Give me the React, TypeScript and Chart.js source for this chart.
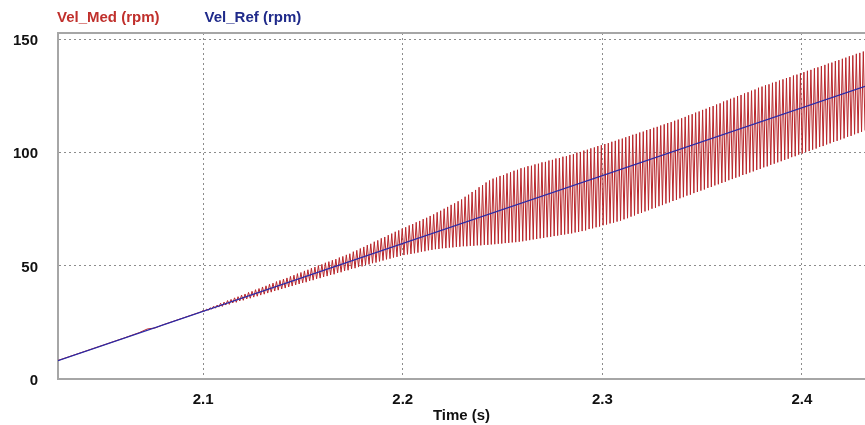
import React, { useEffect, useRef } from "react";
import { Chart, registerables } from "chart.js";

Chart.register(...registerables);

// ---------- data ----------
const seriesNames = ["Vel_Med (rpm)", "Vel_Ref (rpm)"];
const xTitle = "Time (s)";
const xMin = 2.0273;
const xMax = 2.4316;
const yMin = 0;
const yMax = 153;
const xStep = 0.1;
const yStep = 50;

// reference speed (straight ramp)
const refTime = [2.0273, 2.4316];
const refValue = [8.1, 129.4];

// measured speed before the oscillation starts
const medPreTime = [2.0273, 2.06, 2.068, 2.072, 2.076, 2.08, 2.09, 2.099];
const medPreValue = [8.2, 18.0, 20.5, 22.1, 22.6, 24.0, 27.0, 29.7];

// measured speed oscillation: sample times start at medOscStart, half a period apart
const medOscStart = 2.1;
const medHalfPeriod = 0.000875;
const medPeaks = [
  30.3, 30.9, 31.5, 32.2, 32.7, 33.5, 34.0, 34.7, 35.2, 35.9,
  36.4, 37.1, 37.6, 38.3, 38.8, 39.5, 40.0, 40.7, 41.2, 41.9,
  42.4, 43.1, 43.6, 44.2, 44.7, 45.4, 45.9, 46.6, 47.1, 47.8,
  48.3, 49.0, 49.5, 50.2, 50.7, 51.4, 51.9, 52.5, 53.0, 53.7,
  54.2, 54.9, 55.4, 56.3, 56.9, 57.7, 58.4, 59.2, 59.8, 60.7,
  61.3, 62.2, 62.8, 63.6, 64.3, 65.1, 65.7, 66.5, 67.1, 67.9,
  68.5, 69.3, 69.9, 70.7, 71.3, 72.1, 72.8, 73.7, 74.4, 75.3,
  76.1, 77.0, 77.7, 78.6, 79.4, 80.6, 81.5, 82.7, 83.6, 84.8,
  85.7, 86.9, 87.8, 88.6, 89.1, 89.8, 90.2, 90.9, 91.4, 92.1,
  92.5, 93.2, 93.5, 94.1, 94.3, 94.9, 95.2, 95.8, 96.0, 96.6,
  96.9, 97.5, 97.7, 98.3, 98.5, 99.1, 99.4, 100.1, 100.4, 101.0,
  101.4, 102.0, 102.4, 103.0, 103.4, 103.9, 104.3, 104.9, 105.3, 105.9,
  106.3, 106.9, 107.4, 108.0, 108.4, 109.0, 109.4, 110.1, 110.5, 111.1,
  111.5, 112.1, 112.6, 113.2, 113.6, 114.2, 114.7, 115.3, 115.9, 116.6,
  117.1, 117.8, 118.3, 119.0, 119.5, 120.2, 120.7, 121.4, 121.9, 122.7,
  123.2, 123.9, 124.4, 125.1, 125.6, 126.3, 126.8, 127.5, 128.0, 128.8,
  129.3, 129.9, 130.3, 131.0, 131.4, 132.0, 132.5, 133.1, 133.5, 134.2,
  134.6, 135.2, 135.7, 136.3, 136.7, 137.4, 137.8, 138.4, 138.9, 139.5,
  139.9, 140.6, 141.0, 141.6, 142.1, 142.7, 143.1, 143.8, 144.2, 144.8,
];
const medTroughs = [
  30.0, 30.4, 30.9, 31.3, 31.8, 32.1, 32.7, 33.0, 33.6, 33.9,
  34.5, 34.8, 35.4, 35.7, 36.2, 36.6, 37.1, 37.5, 38.0, 38.4,
  38.9, 39.3, 39.8, 40.2, 40.7, 41.1, 41.6, 42.0, 42.5, 42.8,
  43.4, 43.7, 44.3, 44.6, 45.1, 45.5, 46.0, 46.3, 46.9, 47.2,
  47.8, 48.1, 48.7, 49.0, 49.5, 49.8, 50.4, 50.7, 51.2, 51.5,
  52.0, 52.4, 52.9, 53.2, 53.7, 54.0, 54.5, 54.8, 55.1, 55.3,
  55.6, 55.9, 56.3, 56.5, 56.9, 57.1, 57.4, 57.5, 57.8, 57.9,
  58.1, 58.2, 58.4, 58.5, 58.7, 58.7, 58.9, 58.9, 59.1, 59.1,
  59.3, 59.3, 59.5, 59.6, 59.8, 59.9, 60.1, 60.2, 60.4, 60.5,
  60.7, 60.9, 61.2, 61.4, 61.7, 61.9, 62.2, 62.4, 62.7, 62.9,
  63.2, 63.4, 63.7, 63.9, 64.2, 64.4, 64.8, 65.0, 65.4, 65.7,
  66.3, 66.6, 67.1, 67.4, 68.0, 68.3, 68.8, 69.1, 69.6, 70.0,
  70.6, 71.1, 71.8, 72.3, 73.0, 73.4, 74.1, 74.6, 75.3, 75.7,
  76.4, 76.9, 77.6, 78.1, 78.7, 79.2, 79.9, 80.4, 81.1, 81.5,
  82.2, 82.7, 83.3, 83.8, 84.5, 84.9, 85.6, 86.1, 86.7, 87.2,
  87.9, 88.4, 89.0, 89.5, 90.2, 90.6, 91.3, 91.8, 92.4, 92.9,
  93.6, 94.0, 94.7, 95.2, 95.8, 96.3, 96.9, 97.4, 98.1, 98.5,
  99.2, 99.7, 100.3, 100.8, 101.4, 101.9, 102.6, 103.0, 103.7, 104.2,
  104.8, 105.3, 105.9, 106.4, 107.1, 107.5, 108.2, 108.7, 109.3, 109.9,
];

// ---------- styles ----------
const FONT_FAMILY = "'Liberation Sans', Arial, Helvetica, sans-serif";
const MED_COLOR = "#b8262b";
const MED_TEXT = "#c0302c";
const REF_COLOR = "#2a2aa8";
const REF_TEXT = "#1f2a8a";
const FRAME_COLOR = "#a6a6a6";
const GRID_COLOR = "#8c8c8c";

function buildMedPoints() {
  const pts: { x: number; y: number }[] = [];
  medPreTime.forEach((t, i) => pts.push({ x: t, y: medPreValue[i] }));
  for (let k = 0; k < medPeaks.length; k++) {
    pts.push({ x: medOscStart + 2 * k * medHalfPeriod, y: medPeaks[k] });
    pts.push({ x: medOscStart + (2 * k + 1) * medHalfPeriod, y: medTroughs[k] });
  }
  return pts;
}

const frameTopPlugin = {
  id: "frameTop",
  afterDatasetsDraw(chart: any) {
    const { ctx, chartArea } = chart;
    ctx.save();
    ctx.strokeStyle = FRAME_COLOR;
    ctx.lineWidth = 2;
    ctx.beginPath();
    ctx.moveTo(chartArea.left, chartArea.top);
    ctx.lineTo(chartArea.right, chartArea.top);
    ctx.stroke();
    ctx.restore();
  },
};

const legendTextPlugin = {
  id: "legendText",
  afterDraw(chart: any) {
    const { ctx, chartArea } = chart;
    ctx.save();
    ctx.font = `bold 15px ${FONT_FAMILY}`;
    ctx.textBaseline = "middle";
    ctx.textAlign = "left";
    let x = chartArea.left - 1;
    chart.data.datasets.forEach((ds: any) => {
      ctx.fillStyle = ds.legendColor;
      ctx.fillText(ds.label, x, 17.5);
      x += ctx.measureText(ds.label).width + 45;
    });
    ctx.restore();
  },
};

export default function App() {
  const canvasRef = useRef<HTMLCanvasElement | null>(null);

  useEffect(() => {
    const canvas = canvasRef.current;
    if (!canvas) return;
    const tickFont = { family: FONT_FAMILY, size: 15, weight: "bold" as const };
    const chart = new Chart(canvas, {
      type: "line",
      data: {
        datasets: [
          {
            label: seriesNames[0],
            data: buildMedPoints(),
            borderColor: MED_COLOR,
            borderWidth: 1.0,
            pointRadius: 0,
            tension: 0,
            order: 2,
            legendColor: MED_TEXT,
          } as any,
          {
            label: seriesNames[1],
            data: refTime.map((t, i) => ({ x: t, y: refValue[i] })),
            borderColor: REF_COLOR,
            borderWidth: 1.3,
            pointRadius: 0,
            tension: 0,
            order: 1,
            legendColor: REF_TEXT,
          } as any,
        ],
      },
      options: {
        responsive: false,
        animation: false,
        devicePixelRatio: 1,
        layout: { padding: { top: 33, left: 0, right: 0, bottom: 0 } },
        plugins: {
          legend: { display: false },
          tooltip: { enabled: false },
        },
        scales: {
          x: {
            type: "linear",
            min: xMin,
            max: xMax,
            afterFit: (s: any) => {
              s.height = 46;
            },
            ticks: {
              stepSize: xStep,
              includeBounds: false,
              padding: 12,
              color: "#111",
              font: tickFont,
              maxRotation: 0,
              autoSkip: false,
              callback: (v: any) => Number(v).toFixed(1),
            },
            grid: { color: GRID_COLOR, lineWidth: 1, drawTicks: false },
            border: { color: FRAME_COLOR, width: 2, dash: [2, 3] },
            title: {
              display: true,
              text: xTitle,
              color: "#111",
              font: tickFont,
              padding: { top: 0, bottom: 0 },
            },
          },
          y: {
            type: "linear",
            min: yMin,
            max: yMax,
            afterFit: (s: any) => {
              s.width = 58;
            },
            ticks: {
              stepSize: yStep,
              includeBounds: false,
              padding: 20,
              labelOffset: 1.5,
              color: "#111",
              font: tickFont,
            },
            grid: { color: GRID_COLOR, lineWidth: 1, drawTicks: false },
            border: { color: FRAME_COLOR, width: 2, dash: [2, 3] },
          },
        },
      } as any,
      plugins: [frameTopPlugin, legendTextPlugin],
    });
    return () => chart.destroy();
  }, []);

  return (
    <div style={{ position: "fixed", left: 0, top: 0, width: 865, height: 425, background: "#fff" }}>
      <canvas ref={canvasRef} width={865} height={425} style={{ display: "block" }} />
    </div>
  );
}
